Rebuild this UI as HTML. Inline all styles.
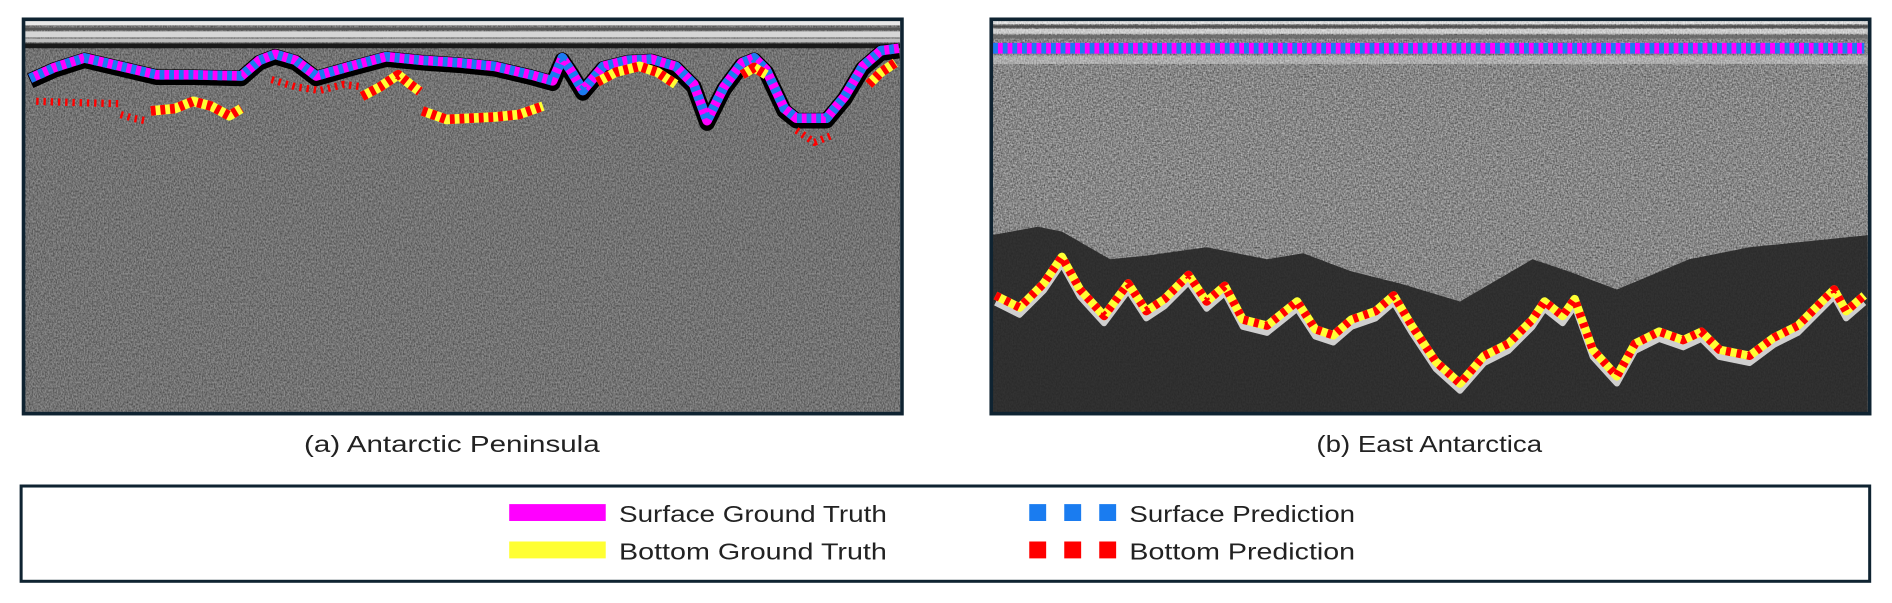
<!DOCTYPE html>
<html><head><meta charset="utf-8"><style>
html,body{margin:0;padding:0;background:#fff;width:1892px;height:603px;overflow:hidden}
svg{display:block}
text{font-family:"Liberation Sans",sans-serif;fill:#222}
</style></head><body>
<svg id="fig" width="1892" height="603" viewBox="0 0 1568 500" preserveAspectRatio="none" xmlns="http://www.w3.org/2000/svg">
<defs>
<filter id="noiseA" x="0" y="0" width="100%" height="100%">
<feTurbulence type="fractalNoise" baseFrequency="0.9 0.6" numOctaves="2" seed="3"/>
<feColorMatrix type="matrix" values="0 0 0 0 0  0 0 0 0 0  0 0 0 0 0  1.4 0 0 0 -0.4"/>
</filter>
<filter id="noiseB" x="0" y="0" width="100%" height="100%">
<feTurbulence type="fractalNoise" baseFrequency="0.35 1.1" numOctaves="2" seed="7"/>
<feColorMatrix type="matrix" values="0 0 0 0 1  0 0 0 0 1  0 0 0 0 1  1.5 0 0 0 -0.45"/>
</filter>
<clipPath id="clipA"><rect x="20" y="17" width="726" height="325"/></clipPath>
<clipPath id="clipB"><rect x="822" y="17" width="726" height="325"/></clipPath>
</defs>

<g clip-path="url(#clipA)">
<rect x="20" y="17" width="726" height="325" fill="#8c8c8c"/>
<rect x="20" y="17" width="726" height="325" fill="#000" filter="url(#noiseA)" opacity="0.6"/>
<rect x="20" y="17" width="726" height="4" fill="#e8e8e8"/>
<rect x="20" y="23" width="726" height="2" fill="#555"/>
<rect x="20" y="26" width="726" height="5" fill="#d6d6d6"/>
<rect x="20" y="32" width="726" height="3" fill="#bdbdbd"/>
<rect x="20" y="36" width="726" height="4" fill="#1a1a1a"/>
<g id="linesA"></g>
</g>
<rect x="19.5" y="16" width="728" height="327" fill="none" stroke="#0f2331" stroke-width="3"/>

<g clip-path="url(#clipB)">
<rect x="822" y="17" width="726" height="325" fill="#9a9a9a"/>
<rect x="822" y="17" width="726" height="325" fill="#000" filter="url(#noiseA)" opacity="0.55"/>
<rect x="822" y="17" width="726" height="325" fill="#fff" filter="url(#noiseB)" opacity="0.45"/>
<rect x="822" y="17" width="726" height="3" fill="#eee"/>
<rect x="822" y="21" width="726" height="2" fill="#555"/>
<rect x="822" y="24" width="726" height="4" fill="#ddd"/>
<rect x="822" y="29" width="726" height="3" fill="#777"/>
<rect x="822" y="46" width="726" height="7" fill="#d8d8d8" opacity="0.6"/>
<g id="darkB"></g>
<g id="linesB"></g>
</g>
<rect x="821.5" y="16" width="728" height="327" fill="none" stroke="#0f2331" stroke-width="3"/>

<text x="252" y="375" font-size="19.5" textLength="245" lengthAdjust="spacingAndGlyphs">(a) Antarctic Peninsula</text>
<text x="1091" y="375" font-size="19.5" textLength="187" lengthAdjust="spacingAndGlyphs">(b) East Antarctica</text>

<g>
<rect x="17.5" y="403" width="1532" height="79" fill="#fff" stroke="#0f2331" stroke-width="2.5"/>
<rect x="422" y="418" width="80" height="14" fill="#ff00ff"/>
<text x="513" y="433" font-size="19.5" textLength="222" lengthAdjust="spacingAndGlyphs">Surface Ground Truth</text>
<rect x="422" y="449" width="80" height="14" fill="#ffff33"/>
<text x="513" y="464" font-size="19.5" textLength="222" lengthAdjust="spacingAndGlyphs">Bottom Ground Truth</text>
<g fill="#1a7cf0">
<rect x="853" y="418" width="14" height="14"/><rect x="882" y="418" width="14" height="14"/><rect x="911" y="418" width="14" height="14"/></g>
<text x="936" y="433" font-size="19.5" textLength="187" lengthAdjust="spacingAndGlyphs">Surface Prediction</text>
<g fill="#ff0000">
<rect x="853" y="449" width="14" height="14"/><rect x="882" y="449" width="14" height="14"/><rect x="911" y="449" width="14" height="14"/></g>
<text x="936" y="464" font-size="19.5" textLength="187" lengthAdjust="spacingAndGlyphs">Bottom Prediction</text>
</g>
</svg>
<script>
// Panel A data (trace position, depth)
const surfAx = [25,45,70,100,130,160,200,215,228,245,262,290,320,350,380,410,440,458,466,474,483,500,520,540,560,575,586,600,615,625,635,650,660,685,700,715,730,745];
const surfAy = [65,56,48,55,62,62,63,50,45,50,63,55,47,50,52,55,62,67,48,60,75,55,50,49,55,70,100,72,52,48,58,90,98,98,80,55,42,40];
const botAseg = [
 {x:[30,60,100],y:[84,85,86],gt:false},
 {x:[100,110,120],y:[95,98,100],gt:false},
 {x:[125,145,160,175,190,200],y:[92,90,84,88,96,90],gt:true},
 {x:[225,245,265,285,300],y:[66,72,75,70,72],gt:false},
 {x:[300,315,330,340,348],y:[80,72,62,70,76],gt:true},
 {x:[350,370,390,410,430,450],y:[92,99,98,97,95,88],gt:true},
 {x:[495,510,530,545,560],y:[68,60,55,60,70],gt:true},
 {x:[615,625,635],y:[62,56,62],gt:true},
 {x:[660,675,690],y:[108,118,112],gt:false},
 {x:[720,730,742],y:[70,60,52],gt:true}
];
// Panel B data
const surfBx = [823,1545];
const surfBy = [40,40];
const botBx = [825,845,865,880,895,915,935,950,965,985,1000,1015,1030,1050,1075,1090,1105,1120,1140,1155,1170,1190,1210,1230,1250,1270,1280,1295,1305,1320,1340,1355,1375,1395,1410,1425,1450,1470,1490,1505,1520,1530,1545];
const botBy = [245,255,235,213,240,262,235,258,248,228,250,237,265,270,250,273,278,265,258,245,270,300,318,295,285,265,250,262,248,290,312,285,275,282,275,290,295,280,270,255,240,258,245];
const darkBx = [822,860,880,920,950,1000,1050,1080,1120,1160,1210,1270,1300,1340,1400,1450,1548];
const darkBy = [195,188,192,215,212,205,215,210,225,235,250,215,225,240,215,205,195];

const NS='http://www.w3.org/2000/svg';
function pathD(xs,ys){return xs.map((x,i)=>(i?'L':'M')+x+','+ys[i]).join(' ');}
function line(parent,xs,ys,color,w,dash,name){
  const p=document.createElementNS(NS,'path');
  p.setAttribute('d',pathD(xs,ys));
  p.setAttribute('fill','none');p.setAttribute('stroke',color);
  p.setAttribute('stroke-width',w);p.setAttribute('stroke-linejoin','round');
  if(dash)p.setAttribute('stroke-dasharray',dash);
  
  
  parent.appendChild(p);
}
const gA=document.getElementById('linesA');
line(gA,surfAx,surfAy.map(v=>v+2),'#000',13,null,'surface-shadow-a');
line(gA,surfAx,surfAy,'#ff00ff',8,null,'surface-ground-truth-a');
line(gA,surfAx,surfAy,'#1a7cf0',8,'4 4','surface-prediction-a');
botAseg.forEach((s,i)=>{
  if(s.gt) line(gA,s.x,s.y,'#ffff33',8,null,'bottom-ground-truth-a');
  line(gA,s.x,s.y,'#ff0000',s.gt?8:6,s.gt?'4 4':'2 4','bottom-prediction-a');
});
const gD=document.getElementById('darkB');
const dk=document.createElementNS(NS,'path');
dk.setAttribute('d',pathD(darkBx,darkBy)+' L1548,345 L822,345 Z');
dk.setAttribute('fill','#333');


gD.appendChild(dk);
const dk2=document.createElementNS(NS,'rect');
dk2.setAttribute('x','822');dk2.setAttribute('y','17');dk2.setAttribute('width','726');dk2.setAttribute('height','325');
dk2.setAttribute('fill','#000');dk2.setAttribute('filter','url(#noiseA)');dk2.setAttribute('opacity','0.25');


gD.appendChild(dk2);
const gB=document.getElementById('linesB');
line(gB,botBx,botBy.map(v=>v+6),'#cfcfcf',5,null,'bed-echo-b');
line(gB,surfBx,surfBy,'#ff00ff',9,null,'surface-ground-truth-b');
line(gB,surfBx,surfBy,'#1a7cf0',9,'4 4','surface-prediction-b');
line(gB,botBx,botBy,'#ffff33',7,null,'bottom-ground-truth-b');
line(gB,botBx,botBy,'#ff0000',7,'4 5','bottom-prediction-b');
</script>
</body></html>
